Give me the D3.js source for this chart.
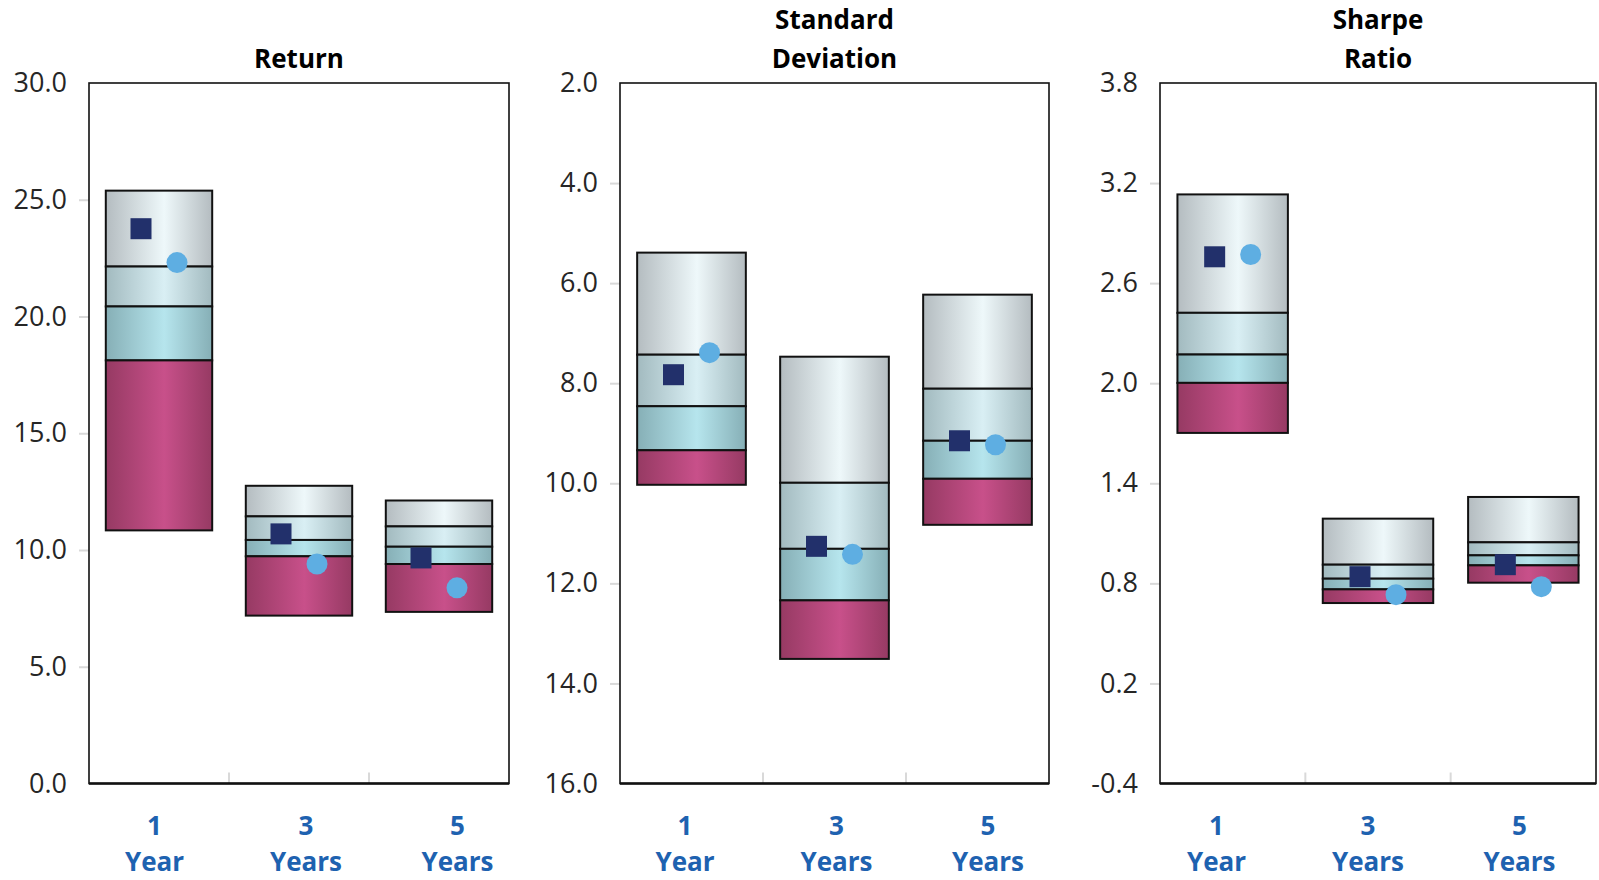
<!DOCTYPE html>
<html><head><meta charset="utf-8">
<script src="https://cdn.jsdelivr.net/npm/d3@7"></script>
<style>
html,body{margin:0;padding:0;background:#fff;}
svg{display:block;}
</style></head>
<body>
<svg id="chart" width="1599" height="880"></svg>
<script>
// ---------- DATA ----------
const categories = ["1 Year", "3 Years", "5 Years"];
const catNumber = ["1", "3", "5"];
const catUnit = ["Year", "Years", "Years"];

// band boundaries per category: [top, upper-quartile, median, lower-quartile, bottom]
const returnBands = [
  [25.39, 22.14, 20.43, 18.12, 10.84],
  [12.75, 11.44, 10.43, 9.73, 7.19],
  [12.12, 11.01, 10.14, 9.40, 7.35]
];
const returnSquare = [23.76, 10.69, 9.66];
const returnCircle = [22.31, 9.40, 8.38];
const returnTicks = [0, 5, 10, 15, 20, 25, 30];

const sdBands = [
  [5.39, 7.43, 8.46, 9.34, 10.03],
  [7.47, 9.99, 11.31, 12.34, 13.51],
  [6.23, 8.11, 9.15, 9.91, 10.83]
];
const sdSquare = [7.83, 11.26, 9.15];
const sdCircle = [7.39, 11.42, 9.23];
const sdTicks = [2, 4, 6, 8, 10, 12, 14, 16];

const sharpeBands = [
  [3.132, 2.422, 2.172, 2.002, 1.702],
  [1.188, 0.912, 0.828, 0.764, 0.682],
  [1.318, 1.046, 0.968, 0.908, 0.804]
];
const sharpeSquare = [2.758, 0.840, 0.912];
const sharpeCircle = [2.772, 0.732, 0.780];
const sharpeTicks = [-0.4, 0.2, 0.8, 1.4, 2.0, 2.6, 3.2, 3.8];

const panelTitles = [["Return"], ["Standard", "Deviation"], ["Sharpe", "Ratio"]];

// ---------- LAYOUT ----------
const plotTop = 83, plotBottom = 783.5;
const panels = [
  {x0: 89, x1: 509, labelShift: 7, domain: [0, 30], bands: returnBands, sq: returnSquare, ci: returnCircle, ticks: returnTicks, title: panelTitles[0]},
  {x0: 620, x1: 1049, labelShift: 2, domain: [16, 2], bands: sdBands, sq: sdSquare, ci: sdCircle, ticks: sdTicks, title: panelTitles[1]},
  {x0: 1160, x1: 1596, labelShift: -10, domain: [-0.4, 3.8], bands: sharpeBands, sq: sharpeSquare, ci: sharpeCircle, ticks: sharpeTicks, title: panelTitles[2]}
];

const svg = d3.select("#chart");
const defs = svg.append("defs");
const segColors = [
  {edge: "#b4bcc0", mid: "#eef8fa"},
  {edge: "#a2babf", mid: "#d9eff4"},
  {edge: "#86afb6", mid: "#b6e5ed"},
  {edge: "#963a63", mid: "#c8508a"}
];
segColors.forEach((c, i) => {
  const g = defs.append("linearGradient").attr("id", "g" + i)
    .attr("x1", "0%").attr("x2", "100%").attr("y1", "0%").attr("y2", "0%");
  g.append("stop").attr("offset", "0%").attr("stop-color", c.edge);
  g.append("stop").attr("offset", "55%").attr("stop-color", c.mid);
  g.append("stop").attr("offset", "100%").attr("stop-color", c.edge);
});

const fontTick = "'Open Sans', 'Noto Sans', sans-serif";
const fmt = d => d3.format(".1f")(d).replace("\u2212", "-");

panels.forEach((p, pi) => {
  const y = d3.scaleLinear().domain(p.domain).range([plotBottom, plotTop]);
  const x = d3.scaleBand().domain(categories).range([p.x0, p.x1])
    .paddingInner(0.24).paddingOuter(0.12);
  const g = svg.append("g");

  // y axis
  const yAxis = d3.axisLeft(y).tickValues(p.ticks).tickSize(10).tickPadding(12)
    .tickFormat(fmt);
  const ya = g.append("g").attr("transform", `translate(${p.x0},0)`).call(yAxis);
  ya.select(".domain").remove();
  ya.selectAll(".tick line").attr("stroke", "#d9d9d9").attr("stroke-width", 2);
  ya.selectAll(".tick text").attr("fill", "#262626")
    .style("font-family", fontTick).style("font-size", "27px");
  ya.selectAll(".tick").filter((d, i) => i === 0 || i === p.ticks.length - 1)
    .select("line").remove();

  // category separators
  [1, 2].forEach(k => {
    const xx = p.x0 + (p.x1 - p.x0) * k / 3;
    g.append("line").attr("x1", xx).attr("x2", xx).attr("y1", plotBottom - 11).attr("y2", plotBottom)
      .attr("stroke", "#d9d9d9").attr("stroke-width", 2);
  });

  // frame
  g.append("rect").attr("x", p.x0).attr("y", plotTop).attr("width", p.x1 - p.x0).attr("height", plotBottom - plotTop)
    .attr("fill", "none").attr("stroke", "#111").attr("stroke-width", 1.6);
  g.append("line").attr("x1", p.x0).attr("x2", p.x1).attr("y1", plotBottom).attr("y2", plotBottom)
    .attr("stroke", "#111").attr("stroke-width", 2.6);

  // bars (segments)
  categories.forEach((c, ci) => {
    const b = p.bands[ci];
    for (let s = 0; s < 4; s++) {
      const ya1 = y(b[s]), ya2 = y(b[s + 1]);
      g.append("rect").attr("x", x(c)).attr("width", x.bandwidth())
        .attr("y", Math.min(ya1, ya2)).attr("height", Math.abs(ya2 - ya1))
        .attr("fill", `url(#g${s})`).attr("stroke", "#111").attr("stroke-width", 2);
    }
  });

  // markers
  const off = 18;
  const sqSize = 21;
  g.selectAll(".sq").data(p.sq).join("rect")
    .attr("x", (d, i) => x(categories[i]) + x.bandwidth() / 2 - off - sqSize / 2)
    .attr("y", d => y(d) - sqSize / 2)
    .attr("width", sqSize).attr("height", sqSize).attr("fill", "#22306b");
  g.selectAll(".ci").data(p.ci).join("circle")
    .attr("cx", (d, i) => x(categories[i]) + x.bandwidth() / 2 + off)
    .attr("cy", d => y(d)).attr("r", 10.5).attr("fill", "#5eaee2");

  // title
  const cx = (p.x0 + p.x1) / 2;
  const lines = p.title;
  lines.forEach((t, li) => {
    g.append("text").attr("x", cx).attr("y", 68 - (lines.length - 1 - li) * 39)
      .attr("text-anchor", "middle").attr("fill", "#000")
      .style("font-family", fontTick).style("font-weight", "700").style("font-size", "26px")
      .text(t);
  });

  // category labels (placed by a point scale centred on the panel)
  const lc = cx + p.labelShift;
  const xl = d3.scalePoint().domain(categories).range([lc - 151.5, lc + 151.5]);
  categories.forEach((c, ci) => {
    const tx = xl(c);
    const t = g.append("text").attr("text-anchor", "middle").attr("fill", "#1e62b0")
      .style("font-family", fontTick).style("font-weight", "700").style("font-size", "26px");
    t.append("tspan").attr("x", tx).attr("y", 835).text(catNumber[ci]);
    t.append("tspan").attr("x", tx).attr("y", 871).text(catUnit[ci]);
  });
});
</script>
</body></html>
